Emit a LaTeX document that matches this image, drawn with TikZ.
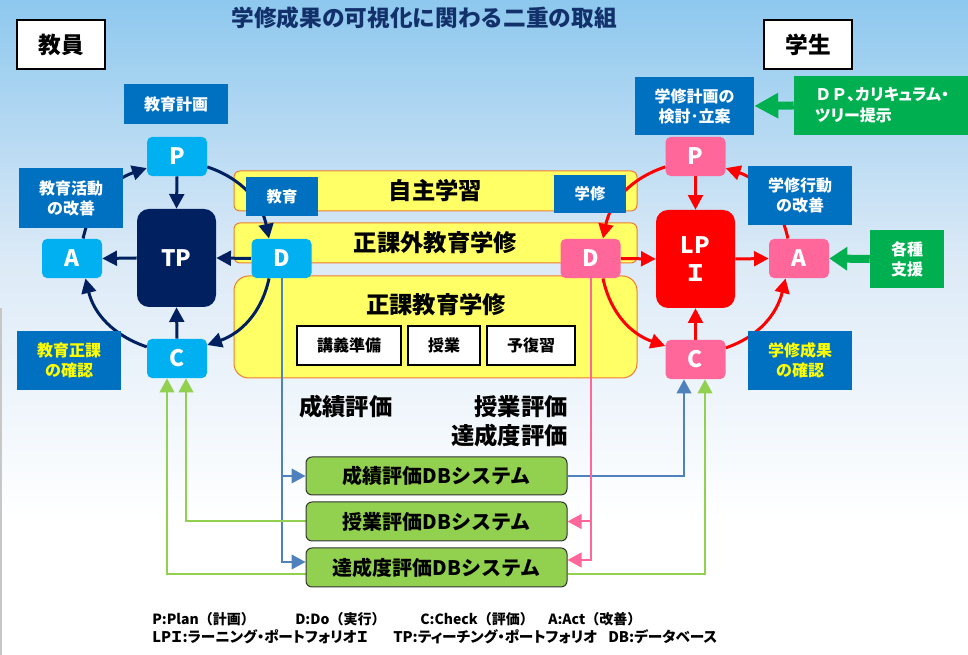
\documentclass[tikz,border=0pt]{standalone}
\usepackage{fontspec}
\setmainfont{Noto Sans CJK JP}
\newfontfamily\jpp{Noto Sans CJK JP}[RawFeature=+palt]
\usetikzlibrary{arrows.meta,calc}
\pgfdeclarelayer{bg}
\pgfdeclarelayer{mid}
\pgfsetlayers{bg,mid,main}
\newcommand\fsz[2]{\fontsize{#1}{#2}\selectfont}
\definecolor{lblue}{HTML}{0070C0}
\definecolor{cyanc}{HTML}{00B0F0}
\definecolor{navy}{HTML}{002060}
\definecolor{pinkc}{HTML}{FF6699}
\definecolor{redc}{HTML}{FF0000}
\definecolor{greenb}{HTML}{00B050}
\definecolor{yel}{HTML}{FFFF66}
\definecolor{orng}{HTML}{ED7D31}
\definecolor{dbg}{HTML}{92D050}
\definecolor{conb}{HTML}{4F81BD}
\definecolor{ttl}{HTML}{12306A}
\definecolor{bgtop}{HTML}{8EC8EE}
\definecolor{bgmid}{HTML}{DCEAF7}
\definecolor{yeltext}{HTML}{FFFF00}
\tikzset{
  lbl/.style={fill=lblue, text=white, align=center, inner sep=0pt, font=\bfseries\fsz{12}{15}},
  cyc/.style={rounded corners=4pt, minimum width=45pt, minimum height=29.5pt, inner sep=0pt, text=white, font=\bfseries\fsz{17}{20}},
  pcy/.style={cyc, fill=cyanc},
  ppk/.style={cyc, fill=pinkc},
  tpbox/.style={rounded corners=9pt, minimum width=59.25pt, minimum height=73.5pt, inner sep=0pt, text=white, align=center, font=\bfseries\fsz{17}{21}},
  hdr/.style={draw=black, line width=1.5pt, fill=white, minimum width=66pt, minimum height=36.75pt, inner sep=0pt, font=\bfseries\fsz{17}{20}},
  ybox/.style={draw=orng, line width=0.75pt, fill=yel, rounded corners=4.5pt, minimum width=302.25pt, inner sep=0pt, font=\bfseries\fsz{17.5}{20}},
  wbox/.style={draw=black, line width=1.5pt, fill=white, minimum height=29.25pt, inner sep=0pt, font=\bfseries\fsz{12}{15}},
  dbox/.style={draw=black!80, line width=0.75pt, fill=dbg, rounded corners=4.5pt, minimum width=195.75pt, inner sep=0pt, font=\bfseries\fsz{15}{18}},
  gbox/.style={fill=greenb, text=white, inner sep=0pt, font=\bfseries\fsz{12}{15}},
  evl/.style={font=\bfseries\fsz{17.5}{20}, inner sep=0pt},
  lgdA/.style={anchor=base west, inner sep=0pt, font=\bfseries\fsz{10.5}{12}},
  lgdB/.style={anchor=base west, inner sep=0pt, font=\jpp\bfseries\fsz{11}{12}},
  arcN/.style={draw=navy, line width=2.25pt, -{Triangle[length=11pt,width=11pt]}},
  arcR/.style={draw=redc, line width=2.25pt, -{Triangle[length=11pt,width=11pt]}},
  conn/.style={line width=1.5pt, -{Triangle[length=10.5pt,width=11pt]}},
  bigarrow/.style={draw=greenb, line width=6pt, -{Triangle[length=18pt,width=18pt]}},
}
\begin{document}
\begin{tikzpicture}[x=0.75pt,y=0.75pt]
\useasboundingbox (0,0) rectangle (968,655);

% ---------- background ----------
\begin{pgfonlayer}{bg}
\shade[top color=bgtop, bottom color=bgmid] (0,394) rectangle (968,655);
\shade[top color=bgmid, bottom color=white] (0,135) rectangle (968,394.5);
\fill[white] (0,0) rectangle (968,135.5);
\draw[black!22, line width=1.5pt] (1,0) -- (1,347);
% yellow areas
\node[ybox, minimum height=30pt] (Y1) at (435.5,464) {自主学習};
\node[ybox, minimum height=30pt] (Y2) at (435.5,412) {正課外教育学修};
\node[ybox, minimum height=76.5pt, rounded corners=11pt] (Y3) at (435.5,328) {};
\node[font=\bfseries\fsz{17.5}{20}, inner sep=0pt] (Y3t) at (436,350) {正課教育学修};
\node[wbox, minimum width=78pt] (W1) at (349,309.5) {講義準備};
\node[wbox, minimum width=54pt] (W2) at (444,309.5) {授業};
\node[wbox, minimum width=66pt] (W3) at (531,309.5) {予復習};
\end{pgfonlayer}

% ---------- header ----------
\node[text=ttl, font=\bfseries\fsz{17}{20}, inner sep=0pt] (title) at (424,637) {学修成果の可視化に関わる二重の取組};
\node[hdr] (kyoin) at (61,610.5) {教員};
\node[hdr] (gakusei) at (808,610.5) {学生};

% ---------- teacher cycle ----------
\node[lbl, minimum width=78pt, minimum height=30pt] (plan1) at (176,551) {教育計画};
\node[pcy] (P1) at (177,498.5) {P};
\node[lbl, minimum width=78pt, minimum height=45pt] (imp1) at (71,457) {教育活動\\の改善};
\node[tpbox, fill=navy] (TP) at (176.5,397) {TP};
\node[pcy] (A1) at (72,396.5) {A};
\node[pcy] (D1) at (281.5,396.5) {D};
\node[pcy] (C1) at (177,296.5) {C};
\node[lbl, text=yeltext, minimum width=78pt, minimum height=44.25pt] (chk1) at (69,294.5) {教育正課\\の確認};
\node[lbl, font=\bfseries\fsz{11.5}{14}, minimum width=54pt, minimum height=29.25pt] (edu) at (282,458.5) {教育};

% ---------- student cycle ----------
\node[lbl, font=\bfseries\fsz{11.5}{14}, minimum width=54pt, minimum height=28.5pt] (stu) at (590,461) {学修};
\node[lbl, minimum width=89.25pt, minimum height=43.5pt] (plan2) at (694.5,549) {学修計画の\\検討･立案};
\node[gbox, minimum width=135.75pt, minimum height=44.25pt] (dp) at (884.5,549.5) {};
\node[anchor=west, text=white, align=left, inner sep=0pt, font=\jpp\bfseries\fsz{12}{16}] (dpt) at (815,549.5) {{\normalfont\bfseries ＤＰ}、カリキュラム・\\ツリー提示};
\node[ppk] (P2) at (695.5,498.5) {P};
\node[lbl, minimum width=78pt, minimum height=44.25pt] (imp2) at (800,459.5) {学修行動\\の改善};
\node[tpbox, fill=redc] (LPI) at (695.5,396) {LP\\Ｉ};
\node[ppk] (D2) at (590.5,396.5) {D};
\node[ppk] (A2) at (799,396.5) {A};
\node[gbox, align=center, minimum width=55.5pt, minimum height=43.5pt] (sien) at (907,396) {各種\\支援};
\node[ppk] (C2) at (695.5,295.5) {C};
\node[lbl, text=yeltext, minimum width=78pt, minimum height=44.25pt] (chk2) at (800,294.5) {学修成果\\の確認};

% ---------- evaluation ----------
\node[evl, anchor=west] (ev1) at (299,248) {成績評価};
\node[evl, anchor=east] (ev2) at (568,248) {授業評価};
\node[evl, anchor=east] (ev3) at (568,219.5) {達成度評価};
\node[dbox, minimum height=28.5pt] (DB1) at (436.5,179) {成績評価DBシステム};
\node[dbox, minimum height=29.25pt] (DB2) at (436.5,133.5) {授業評価DBシステム};
\node[dbox, minimum height=29.25pt] (DB3) at (436.5,87.5) {達成度評価DBシステム};

% ---------- legend ----------
\node[lgdA] (lg1) at (152,30) {P:Plan（計画）};
\node[lgdA] (lg2) at (295,30) {D:Do（実行）};
\node[lgdA] (lg3) at (420,30) {C:Check（評価）};
\node[lgdA] (lg4) at (548,30) {A:Act（改善）};
\node[lgdB] (lg5) at (152,12) {LPＩ:ラーニング・ポートフォリオＩ};
\node[lgdB] (lg6) at (393,12) {TP:ティーチング・ポートフォリオ};
\node[lgdB] (lg7) at (608,12) {DB:データベース};

% ---------- connectors ----------
\begin{pgfonlayer}{mid}
% teacher cycle arcs
\draw[arcN] (P1.-19) to[out=-18.5,in=101.6] (D1.122);
\draw[arcN] (D1.238) to[out=-102.2,in=19.3] (C1.24);
\draw[arcN] (C1.159) to[out=161.1,in=-76.5] (A1.-56);
\draw[arcN] (A1.61) to[out=77.3,in=198.7] (P1.201);
\draw[arcN] (P1.south) -- (TP.north);
\draw[arcN] (D1.west) -- (TP.east);
\draw[arcN] (TP.west) -- (A1.east);
\draw[arcN] (C1.north) -- (TP.south);
% student cycle arcs
\draw[arcR] (P2.199) to[out=198.5,in=78.4] (D2.58);
\draw[arcR] (D2.302) to[out=282.2,in=160.7] (C2.156);
\draw[arcR] (C2.21) to[out=18.9,in=256.5] (A2.236);
\draw[arcR] (A2.119) to[out=102.7,in=-18.7] (P2.-21);
\draw[arcR] (P2.south) -- (LPI.north);
\draw[arcR] (D2.east) -- (LPI.west);
\draw[arcR] (LPI.east) -- (A2.west);
\draw[arcR] (C2.north) -- (LPI.south);
% support arrows
\draw[bigarrow] (dp.west) -- (plan2.east);
\draw[bigarrow, -{Triangle[length=13.5pt,width=17pt]}] (sien.west) -- (A2.east);
% database connectors
\draw[conn, conb] (D1.south) |- (DB1.west);
\draw[conn, conb] (D1.south) |- ($(DB3.west)+(0,5.5)$);
\draw[conn, conb] (DB1.east) -| ($(C2.south)+(-11.5,0)$);
\draw[conn, pinkc] (D2.south) |- (DB2.east);
\draw[conn, pinkc] (D2.south) |- ($(DB3.east)+(0,7.5)$);
\draw[conn, dbg] ($(DB3.east)+(0,-6.5)$) -| ($(C2.south)+(9.5,0)$);
\draw[conn, dbg] (DB2.west) -| ($(C1.south)+(9,0)$);
\draw[conn, dbg] ($(DB3.west)+(0,-6.5)$) -| ($(C1.south)+(-10,0)$);
\end{pgfonlayer}
\end{tikzpicture}
\end{document}
